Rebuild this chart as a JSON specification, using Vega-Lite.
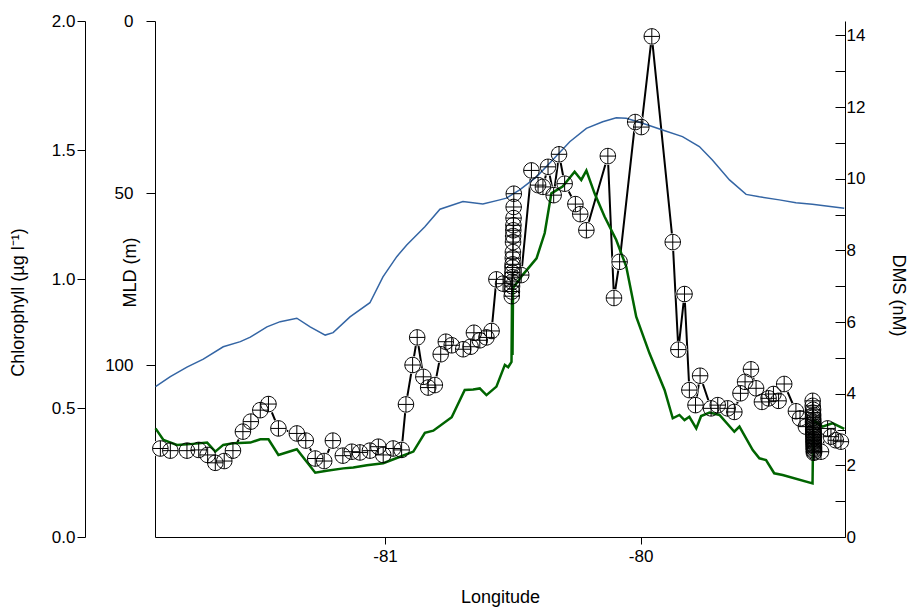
{
  "$schema": "https://vega.github.io/schema/vega-lite/v6.json",
  "width": 690,
  "height": 516,
  "autosize": {"type": "none"},
  "padding": {"left": 155, "top": 21, "right": 65, "bottom": 71},
  "background": "white",
  "config": {
    "view": {"stroke": null},
    "axis": {
      "domainColor": "black", "tickColor": "black", "labelColor": "black", "titleColor": "black",
      "labelFont": "Liberation Sans", "titleFont": "Liberation Sans",
      "labelFontSize": 17, "titleFontSize": 18, "titleFontWeight": "normal",
      "grid": false, "domainWidth": 1, "tickWidth": 1
    }
  },
  "datasets": {
    "mld": [
      {"lon": -81.898, "mld": 106.3}, {"lon": -81.840, "mld": 103.4}, {"lon": -81.775, "mld": 100.6},
      {"lon": -81.711, "mld": 98.3}, {"lon": -81.633, "mld": 94.7}, {"lon": -81.566, "mld": 93.2},
      {"lon": -81.527, "mld": 91.9}, {"lon": -81.462, "mld": 88.9}, {"lon": -81.410, "mld": 87.4},
      {"lon": -81.345, "mld": 86.4}, {"lon": -81.293, "mld": 88.9}, {"lon": -81.234, "mld": 91.3},
      {"lon": -81.203, "mld": 90.6}, {"lon": -81.137, "mld": 86.0}, {"lon": -81.059, "mld": 81.9},
      {"lon": -81.008, "mld": 74.4}, {"lon": -80.954, "mld": 68.5}, {"lon": -80.915, "mld": 65.1},
      {"lon": -80.844, "mld": 59.8}, {"lon": -80.785, "mld": 54.7}, {"lon": -80.695, "mld": 52.5},
      {"lon": -80.617, "mld": 53.2}, {"lon": -80.551, "mld": 52.0}, {"lon": -80.525, "mld": 51.5},
      {"lon": -80.473, "mld": 49.1}, {"lon": -80.407, "mld": 45.3}, {"lon": -80.344, "mld": 40.4},
      {"lon": -80.277, "mld": 35.1}, {"lon": -80.212, "mld": 31.2}, {"lon": -80.148, "mld": 29.3},
      {"lon": -80.095, "mld": 28.1}, {"lon": -80.056, "mld": 28.3}, {"lon": -79.992, "mld": 29.7},
      {"lon": -79.914, "mld": 31.7}, {"lon": -79.836, "mld": 33.6}, {"lon": -79.770, "mld": 36.5},
      {"lon": -79.719, "mld": 40.4}, {"lon": -79.652, "mld": 46.2}, {"lon": -79.587, "mld": 50.4},
      {"lon": -79.535, "mld": 51.1}, {"lon": -79.457, "mld": 52.0}, {"lon": -79.392, "mld": 52.8},
      {"lon": -79.328, "mld": 53.3}, {"lon": -79.203, "mld": 54.4}
    ],
    "chl": [
      {"lon": -81.898, "chl": 0.421}, {"lon": -81.867, "chl": 0.376}, {"lon": -81.814, "chl": 0.357},
      {"lon": -81.762, "chl": 0.360}, {"lon": -81.696, "chl": 0.366}, {"lon": -81.664, "chl": 0.331},
      {"lon": -81.633, "chl": 0.357}, {"lon": -81.594, "chl": 0.363}, {"lon": -81.527, "chl": 0.366},
      {"lon": -81.488, "chl": 0.379}, {"lon": -81.456, "chl": 0.379}, {"lon": -81.417, "chl": 0.318},
      {"lon": -81.345, "chl": 0.340}, {"lon": -81.273, "chl": 0.249}, {"lon": -81.228, "chl": 0.257},
      {"lon": -81.163, "chl": 0.266}, {"lon": -81.124, "chl": 0.269}, {"lon": -81.071, "chl": 0.278},
      {"lon": -81.007, "chl": 0.286}, {"lon": -80.941, "chl": 0.311}, {"lon": -80.889, "chl": 0.331},
      {"lon": -80.844, "chl": 0.404}, {"lon": -80.811, "chl": 0.412}, {"lon": -80.739, "chl": 0.464},
      {"lon": -80.688, "chl": 0.570}, {"lon": -80.655, "chl": 0.572}, {"lon": -80.629, "chl": 0.576},
      {"lon": -80.603, "chl": 0.550}, {"lon": -80.564, "chl": 0.583}, {"lon": -80.531, "chl": 0.667},
      {"lon": -80.518, "chl": 0.658}, {"lon": -80.505, "chl": 0.679}, {"lon": -80.503, "chl": 0.919},
      {"lon": -80.501, "chl": 0.705}, {"lon": -80.499, "chl": 0.965}, {"lon": -80.461, "chl": 1.016},
      {"lon": -80.407, "chl": 1.080}, {"lon": -80.375, "chl": 1.178}, {"lon": -80.349, "chl": 1.332},
      {"lon": -80.305, "chl": 1.358}, {"lon": -80.258, "chl": 1.416}, {"lon": -80.232, "chl": 1.384},
      {"lon": -80.212, "chl": 1.420}, {"lon": -80.180, "chl": 1.332}, {"lon": -80.141, "chl": 1.242},
      {"lon": -80.095, "chl": 1.151}, {"lon": -80.056, "chl": 1.048}, {"lon": -80.017, "chl": 0.854},
      {"lon": -79.965, "chl": 0.712}, {"lon": -79.906, "chl": 0.570}, {"lon": -79.874, "chl": 0.460},
      {"lon": -79.848, "chl": 0.473}, {"lon": -79.828, "chl": 0.453}, {"lon": -79.809, "chl": 0.466},
      {"lon": -79.782, "chl": 0.421}, {"lon": -79.763, "chl": 0.469}, {"lon": -79.730, "chl": 0.482},
      {"lon": -79.691, "chl": 0.473}, {"lon": -79.633, "chl": 0.408}, {"lon": -79.613, "chl": 0.428},
      {"lon": -79.561, "chl": 0.337}, {"lon": -79.535, "chl": 0.305}, {"lon": -79.509, "chl": 0.298},
      {"lon": -79.477, "chl": 0.247}, {"lon": -79.444, "chl": 0.240}, {"lon": -79.327, "chl": 0.208},
      {"lon": -79.324, "chl": 0.453}, {"lon": -79.288, "chl": 0.428}, {"lon": -79.249, "chl": 0.441},
      {"lon": -79.203, "chl": 0.419}
    ],
    "dms": [
      {"lon": -81.879, "dms": 2.47}, {"lon": -81.840, "dms": 2.41}, {"lon": -81.775, "dms": 2.41},
      {"lon": -81.729, "dms": 2.43}, {"lon": -81.694, "dms": 2.29}, {"lon": -81.664, "dms": 2.07},
      {"lon": -81.629, "dms": 2.12}, {"lon": -81.595, "dms": 2.41}, {"lon": -81.556, "dms": 2.94},
      {"lon": -81.525, "dms": 3.22}, {"lon": -81.488, "dms": 3.54}, {"lon": -81.456, "dms": 3.71},
      {"lon": -81.417, "dms": 3.03}, {"lon": -81.345, "dms": 2.89}, {"lon": -81.310, "dms": 2.69},
      {"lon": -81.273, "dms": 2.19}, {"lon": -81.238, "dms": 2.12}, {"lon": -81.204, "dms": 2.69},
      {"lon": -81.165, "dms": 2.27}, {"lon": -81.130, "dms": 2.38}, {"lon": -81.098, "dms": 2.36},
      {"lon": -81.059, "dms": 2.41}, {"lon": -81.026, "dms": 2.52}, {"lon": -81.007, "dms": 2.29},
      {"lon": -80.968, "dms": 2.47}, {"lon": -80.935, "dms": 2.43}, {"lon": -80.918, "dms": 3.70},
      {"lon": -80.892, "dms": 4.80}, {"lon": -80.874, "dms": 5.57}, {"lon": -80.850, "dms": 4.47},
      {"lon": -80.831, "dms": 4.17}, {"lon": -80.805, "dms": 4.24}, {"lon": -80.782, "dms": 5.10},
      {"lon": -80.762, "dms": 5.45}, {"lon": -80.739, "dms": 5.35}, {"lon": -80.694, "dms": 5.24},
      {"lon": -80.665, "dms": 5.31}, {"lon": -80.652, "dms": 5.70}, {"lon": -80.629, "dms": 5.49},
      {"lon": -80.603, "dms": 5.57}, {"lon": -80.583, "dms": 5.75}, {"lon": -80.564, "dms": 7.19},
      {"lon": -80.538, "dms": 7.07},
      {"lon": -80.5040, "dms": 6.72}, {"lon": -80.5035, "dms": 6.85}, {"lon": -80.5030, "dms": 7.00},
      {"lon": -80.5025, "dms": 7.12}, {"lon": -80.5020, "dms": 7.25}, {"lon": -80.5015, "dms": 7.38},
      {"lon": -80.5010, "dms": 7.52}, {"lon": -80.5005, "dms": 7.61}, {"lon": -80.5000, "dms": 7.78},
      {"lon": -80.4995, "dms": 7.95}, {"lon": -80.4990, "dms": 8.23}, {"lon": -80.4985, "dms": 8.40},
      {"lon": -80.4980, "dms": 8.56}, {"lon": -80.4975, "dms": 8.70}, {"lon": -80.4970, "dms": 8.90},
      {"lon": -80.4965, "dms": 9.21}, {"lon": -80.4960, "dms": 9.58},
      {"lon": -80.467, "dms": 7.31}, {"lon": -80.427, "dms": 10.23}, {"lon": -80.401, "dms": 9.82},
      {"lon": -80.382, "dms": 9.77}, {"lon": -80.362, "dms": 10.33}, {"lon": -80.340, "dms": 9.54},
      {"lon": -80.319, "dms": 10.68}, {"lon": -80.297, "dms": 9.86}, {"lon": -80.255, "dms": 9.29},
      {"lon": -80.236, "dms": 9.01}, {"lon": -80.212, "dms": 8.56}, {"lon": -80.128, "dms": 10.63},
      {"lon": -80.104, "dms": 6.67}, {"lon": -80.082, "dms": 7.68}, {"lon": -80.021, "dms": 11.58},
      {"lon": -79.997, "dms": 11.44}, {"lon": -79.956, "dms": 13.97}, {"lon": -79.874, "dms": 8.23},
      {"lon": -79.852, "dms": 5.23}, {"lon": -79.828, "dms": 6.78}, {"lon": -79.809, "dms": 4.10},
      {"lon": -79.785, "dms": 3.68}, {"lon": -79.767, "dms": 4.50}, {"lon": -79.724, "dms": 3.59},
      {"lon": -79.698, "dms": 3.68}, {"lon": -79.659, "dms": 3.59}, {"lon": -79.633, "dms": 3.49},
      {"lon": -79.609, "dms": 4.01}, {"lon": -79.591, "dms": 4.33}, {"lon": -79.568, "dms": 4.68},
      {"lon": -79.548, "dms": 4.15}, {"lon": -79.525, "dms": 3.77}, {"lon": -79.499, "dms": 3.87},
      {"lon": -79.480, "dms": 3.99}, {"lon": -79.460, "dms": 3.80}, {"lon": -79.438, "dms": 4.27},
      {"lon": -79.392, "dms": 3.51}, {"lon": -79.376, "dms": 3.31}, {"lon": -79.353, "dms": 3.08},
      {"lon": -79.3265, "dms": 3.80}, {"lon": -79.3262, "dms": 3.66}, {"lon": -79.3258, "dms": 3.47},
      {"lon": -79.3255, "dms": 3.33}, {"lon": -79.3252, "dms": 3.21}, {"lon": -79.3250, "dms": 3.55},
      {"lon": -79.3248, "dms": 3.10}, {"lon": -79.3245, "dms": 3.40}, {"lon": -79.3244, "dms": 3.00},
      {"lon": -79.3241, "dms": 2.91}, {"lon": -79.3240, "dms": 3.27}, {"lon": -79.3238, "dms": 2.82},
      {"lon": -79.3236, "dms": 3.16}, {"lon": -79.3235, "dms": 2.73}, {"lon": -79.3232, "dms": 3.05},
      {"lon": -79.3231, "dms": 2.65}, {"lon": -79.3229, "dms": 2.95}, {"lon": -79.3228, "dms": 2.57},
      {"lon": -79.3226, "dms": 2.86}, {"lon": -79.3225, "dms": 2.49}, {"lon": -79.3223, "dms": 2.78},
      {"lon": -79.3222, "dms": 2.42}, {"lon": -79.3220, "dms": 2.69}, {"lon": -79.3218, "dms": 2.35},
      {"lon": -79.3217, "dms": 2.61}, {"lon": -79.3214, "dms": 2.53}, {"lon": -79.3211, "dms": 2.46},
      {"lon": -79.3208, "dms": 2.38},
      {"lon": -79.294, "dms": 2.38}, {"lon": -79.268, "dms": 3.03}, {"lon": -79.255, "dms": 2.80},
      {"lon": -79.236, "dms": 2.70}, {"lon": -79.216, "dms": 2.66}
    ]
  },
  "encoding": {
    "x": {
      "field": "lon", "type": "quantitative",
      "scale": {"domain": [-81.9, -79.2], "nice": false, "zero": false},
      "axis": {
        "values": [-81, -80], "labelExpr": "toString(datum.value)",
        "labelFontSize": 17, "titleFontSize": 18,
        "title": "Longitude", "tickSize": 7, "labelPadding": 4,
        "titleY": 60, "titleBaseline": "middle"
      }
    }
  },
  "layer": [
    {
      "data": {"name": "dms"},
      "mark": {"type": "line", "color": "black", "strokeWidth": 2},
      "encoding": {
        "y": {"field": "dms", "type": "quantitative", "scale": {"domain": [0, 14.4], "nice": false, "zero": false}, "axis": null}
      }
    },
    {
      "data": {"name": "dms"},
      "mark": {"type": "point", "shape": "circle", "filled": true, "color": "white", "size": 320, "opacity": 1, "strokeWidth": 0},
      "encoding": {
        "y": {"field": "dms", "type": "quantitative", "scale": {"domain": [0, 14.4], "nice": false, "zero": false}, "axis": null}
      }
    },
    {
      "data": {"name": "mld"},
      "mark": {"type": "line", "color": "#3465a4", "strokeWidth": 1.5},
      "encoding": {
        "y": {
          "field": "mld", "type": "quantitative",
          "scale": {"domain": [0, 150], "reverse": true, "nice": false, "zero": false},
          "axis": {
            "orient": "left", "values": [0, 50, 100], "title": "MLD (m)",
            "tickSize": 9, "labelPadding": 13,
            "titleX": -25, "titleY": 251, "titleAngle": 270, "titleAlign": "center", "titleBaseline": "middle"
          }
        }
      }
    },
    {
      "data": {"name": "chl"},
      "mark": {"type": "line", "color": "#006400", "strokeWidth": 2.5},
      "encoding": {
        "y": {
          "field": "chl", "type": "quantitative",
          "scale": {"domain": [0, 2], "nice": false, "zero": false},
          "axis": {
            "orient": "left", "offset": 70, "values": [0, 0.5, 1, 1.5, 2], "format": ".1f",
            "title": "Chlorophyll (µg l⁻¹)", "tickSize": 8, "labelPadding": 2,
            "titleX": -67, "titleY": 281, "titleAngle": 270, "titleAlign": "center", "titleBaseline": "middle"
          }
        }
      }
    },
    {
      "data": {"name": "dms"},
      "mark": {"type": "point", "shape": "M-1,0A1,1,0,1,1,1,0A1,1,0,1,1,-1,0M-1,0L1,0M0,-1L0,1", "filled": false, "stroke": "black", "strokeWidth": 1, "size": 240, "opacity": 1},
      "encoding": {
        "y": {
          "field": "dms", "type": "quantitative",
          "scale": {"domain": [0, 14.4], "nice": false, "zero": false},
          "axis": {
            "orient": "right", "values": [0, 1, 2, 3, 4, 5, 6, 7, 8, 9, 10, 11, 12, 13, 14],
            "labelExpr": "datum.value % 2 == 0 ? datum.label : ''",
            "title": "DMS (nM)", "tickSize": -10, "labelPadding": 11,
            "titleX": 52, "titleY": 274, "titleAngle": 90, "titleAlign": "center", "titleBaseline": "middle"
          }
        }
      }
    }
  ],
  "resolve": {"scale": {"y": "independent"}, "axis": {"y": "independent"}}
}
